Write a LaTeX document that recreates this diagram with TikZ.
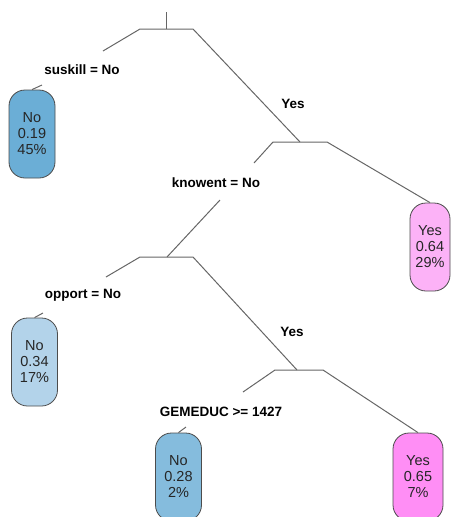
\documentclass[tikz,border=0pt]{standalone}
\usepackage{fontspec}
\setmainfont{Liberation Sans}
\usepackage{tikz}
\usetikzlibrary{positioning}
\definecolor{noDark}{HTML}{6BAED6}
\definecolor{noMid}{HTML}{85BCDD}
\definecolor{noLight}{HTML}{B3D3EA}
\definecolor{yesLight}{HTML}{FCB2F7}
\definecolor{yesDark}{HTML}{FF8EF5}
\tikzstyle{leaf} = [rectangle, rounded corners=16pt, minimum width=46pt, minimum height=88pt, text centered, align=center, draw=black!70, line width=0.8pt, text=black!85, font=\fontsize{14.5}{16}\selectfont, inner sep=2pt]
\tikzstyle{split} = [font=\fontsize{13.5}{15}\selectfont\bfseries]
\tikzstyle{branch} = [draw=black!60, line width=1pt]

\begin{document}
\begin{tikzpicture}[x=1pt, y=-1pt]
			\useasboundingbox (0,0) rectangle (451,517);
			\clip (0,0) rectangle (451,517);

			% split points
			\coordinate (top) at (166,12);
			\coordinate (n1) at (166,29);
			\coordinate (n1l) at (140,29);
			\coordinate (n1r) at (193,29);
			\coordinate (n1e) at (103,51);
			\coordinate (s1) at (42,85);
			\coordinate (n2) at (300,142);
			\coordinate (n2l) at (273,142);
			\coordinate (n2r) at (327,142);
			\coordinate (n2e) at (254,163);
			\coordinate (n2k) at (220,200);
			\coordinate (n3) at (167,257);
			\coordinate (n3l) at (140,257);
			\coordinate (n3r) at (193,257);
			\coordinate (n3e) at (106,277);
			\coordinate (s3) at (43,313);
			\coordinate (n4) at (297,370);
			\coordinate (n4l) at (275,370);
			\coordinate (n4r) at (323,370);
			\coordinate (n4e) at (243,392);
			\coordinate (s4) at (186,427);

			% labels
			\node (suskill) [split] at (82,70) {suskill = No};
			\node (yes1) [split] at (293,104) {Yes};
			\node (knowent) [split] at (216,183) {knowent = No};
			\node (opport) [split] at (83,295) {opport = No};
			\node (yes2) [split] at (292,332) {Yes};
			\node (gemeduc) [split] at (221,412) {GEMEDUC >= 1427};

			% leaves
			\node (leafA) [leaf, fill=noDark] at (32,134) {No\\0.19\\45\%};
			\node (leafB) [leaf, fill=yesLight, minimum width=40pt] at (430,247) {Yes\\0.64\\29\%};
			\node (leafC) [leaf, fill=noLight] at (34.5,362) {No\\0.34\\17\%};
			\node (leafD) [leaf, fill=noMid] at (178.5,477) {No\\0.28\\2\%};
			\node (leafE) [leaf, fill=yesDark, minimum width=50pt] at (418,477) {Yes\\0.65\\7\%};

			\draw [branch] (top) -- (n1);
			\draw [branch] (n1e) -- (n1l) -- (n1r) -- (n2);
			\draw [branch] (s1) -- (leafA.north);
			\draw [branch] (n2e) -- (n2l) -- (n2r) -- (leafB.north);
			\draw [branch] (n2k) -- (n3);
			\draw [branch] (n3e) -- (n3l) -- (n3r) -- (n4);
			\draw [branch] (s3) -- (leafC.north);
			\draw [branch] (n4e) -- (n4l) -- (n4r) -- (leafE.north);
			\draw [branch] (s4) -- (leafD.north);
		\end{tikzpicture}
\end{document}
